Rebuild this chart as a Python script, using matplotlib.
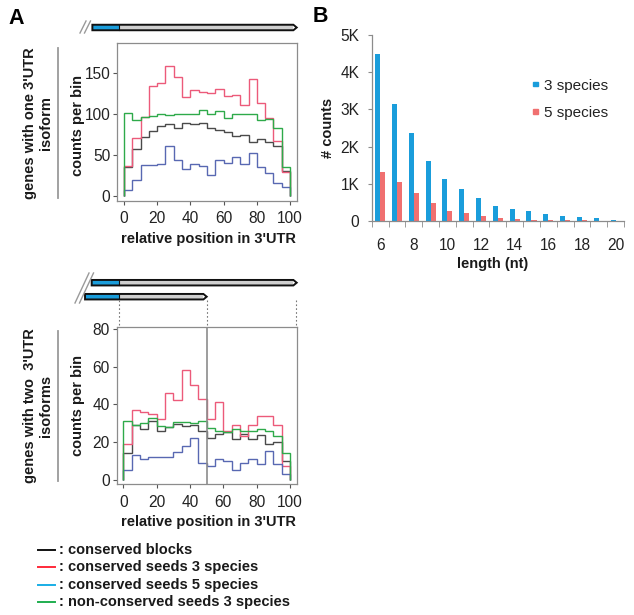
import numpy as np
import matplotlib
matplotlib.use("Agg")
import matplotlib.pyplot as plt
import matplotlib.transforms as mtransforms
from matplotlib.patches import Polygon, Rectangle

plt.rcParams["font.family"] = ["Liberation Sans", "DejaVu Sans"]

# ---- data ---------------------------------------------------------------
bin_edges = np.arange(0, 105, 5)  # relative position in 3'UTR

# genes with one 3'UTR isoform (counts per bin)
one_blocks = [35, 57, 72, 79, 85, 88, 83, 89, 88, 89, 82, 80, 78, 73, 74, 66, 69, 65, 60, 30]
one_seeds3 = [36, 70, 96, 134, 137, 158, 145, 120, 129, 126, 125, 130, 121, 123, 110, 142, 113, 95, 67, 29]
one_seeds5 = [7, 19, 38, 37, 39, 61, 44, 32, 39, 36, 25, 43, 40, 47, 39, 52, 35, 28, 16, 10]
one_nonc3 = [101, 92, 96, 97, 99, 98, 99, 100, 100, 104, 100, 103, 95, 99, 100, 100, 92, 93, 83, 35]

# genes with two 3'UTR isoforms (counts per bin)
two_blocks = [14, 29, 27, 31, 26, 28, 29.5, 28.5, 29, 26, 22, 24, 25, 21.5, 24, 21.5, 23.5, 19, 20, 10]
two_seeds3 = [19, 37, 36, 35, 32, 46, 42, 58, 50, 43, 32, 41, 26, 29, 23, 29, 34, 34, 29, 7]
two_seeds5 = [5, 13, 11, 12, 12, 12, 14.5, 18, 22, 9, 7, 11, 10, 5, 9, 11, 8, 15, 8, 3]
two_nonc3 = [31, 29, 30, 32.5, 28.5, 28, 30.5, 30.5, 30, 31, 27.5, 26, 25.5, 27, 26, 26, 27, 26, 23, 14]

# panel B: seed length histogram
lengths = np.arange(6, 21)
counts_3sp = [4500, 3150, 2360, 1620, 1130, 860, 620, 410, 320, 260, 180, 130, 100, 70, 40]
counts_5sp = [1320, 1050, 740, 490, 280, 220, 140, 90, 55, 40, 25, 18, 15, 8, 5]

series_names = [": conserved blocks", ": conserved seeds 3 species",
                ": conserved seeds 5 species", ": non-conserved seeds 3 species"]

# ---- styles -------------------------------------------------------------
W, H = 634, 615
line_cols = ["#4a4a4a", "#ec5a7a", "#5868b2", "#2eaa4a"]
legend_cols = ["#111111", "#ff2a3a", "#19aee6", "#1fae4f"]
bar_blue = "#1a9ddb"
bar_red = "#f07070"
frame_gray = "#8c8c8c"

fig = plt.figure(figsize=(W / 100, H / 100), dpi=100)
fig_px = mtransforms.Affine2D().scale(1 / W, -1 / H).translate(0, 1) + fig.transFigure


def box(left, top, right, bottom):
    return [left / W, 1 - bottom / H, (right - left) / W, (bottom - top) / H]


def style_r_axes(ax, yticks):
    for s in ax.spines.values():
        s.set_color(frame_gray)
        s.set_linewidth(0.9)
    ax.set_xlim(-4, 104)
    ax.set_xticks([0, 20, 40, 60, 80, 100])
    ax.set_yticks(yticks)
    ax.tick_params(colors="#555555", labelcolor="#222222", labelsize=11.2,
                   length=3, width=0.8)
    ax.tick_params(axis="x", pad=4.5)
    ax.tick_params(axis="y", pad=2)


def draw_series(ax, series):
    for vals, c in zip(series, line_cols):
        ax.stairs(vals, bin_edges, baseline=0, color=c, lw=1.0)


def gene(ax, y, x0, x_junc, x1, tip=2.0, h=5.5):
    tr = mtransforms.blended_transform_factory(ax.transData, fig_px)
    ax.add_patch(Rectangle((x0, y - h / 2), x_junc - x0, h, transform=tr,
                           facecolor="#1a9ddb", edgecolor="none", clip_on=False))
    ax.add_patch(Rectangle((x_junc, y - h / 2), x1 - tip - x_junc, h, transform=tr,
                           facecolor="#cfcfcf", edgecolor="none", clip_on=False))
    pts = [(x0, y - h / 2), (x1 - tip, y - h / 2), (x1, y), (x1 - tip, y + h / 2), (x0, y + h / 2)]
    ax.add_patch(Polygon(pts, closed=True, transform=tr, facecolor="none",
                         edgecolor="#111111", lw=1.4, clip_on=False))
    ax.plot([x_junc, x_junc], [y - h / 2, y + h / 2], transform=tr, color="#111111",
            lw=0.8, clip_on=False)


def slashes(x0, y0, x1, y1, gap=4.5):
    for d in (0, gap):
        fig.add_artist(plt.Line2D([x0 + d, x1 + d], [y0, y1], transform=fig_px,
                                  color="#9a9a9a", lw=1.0))


bold = dict(fontweight="bold", color="#1a1a1a")

# ---- panel A, top -------------------------------------------------------
ax1 = fig.add_axes(box(117.3, 43.3, 296.7, 201))
draw_series(ax1, [one_blocks, one_seeds3, one_seeds5, one_nonc3])
style_r_axes(ax1, [0, 50, 100, 150])
ax1.set_ylim(-6.5, 185.8)

gene(ax1, 27.5, -19, -2.8, 104)
slashes(80, 33, 86, 21)

fig.text(38 / W, 1 - 123 / H, "genes with one 3'UTR\nisoform", rotation=90,
         ha="center", va="center", fontsize=10.5, linespacing=1.15, **bold)
fig.add_artist(plt.Line2D([58 / W, 58 / W], [1 - 48 / H, 1 - 198 / H], color="#9a9a9a", lw=1.3))
fig.text(78 / W, 1 - 125 / H, "counts per bin", rotation=90, ha="center", va="center",
         fontsize=10.5, **bold)
fig.text(208 / W, 1 - 239 / H, "relative position in 3'UTR", ha="center", va="center",
         fontsize=10.5, **bold)

# ---- panel A, bottom ----------------------------------------------------
ax2 = fig.add_axes(box(116.7, 327.3, 296.7, 484.3))
draw_series(ax2, [two_blocks, two_seeds3, two_seeds5, two_nonc3])
style_r_axes(ax2, [0, 20, 40, 60, 80])
ax2.set_ylim(-2.55, 80.9)
ax2.axvline(50, color=frame_gray, lw=1.2)

gene(ax2, 282.7, -19, -2.8, 104)
gene(ax2, 296.7, -23, -2.8, 50)
slashes(75, 303, 89, 273)
tr2 = mtransforms.blended_transform_factory(ax2.transData, fig_px)
for xv in (-2.8, 50, 103.6):
    ax2.plot([xv, xv], [300, 327], transform=tr2, color="#777777", lw=0.8,
             ls=(0, (1.5, 2)), clip_on=False)

fig.text(38 / W, 1 - 406 / H, "genes with two  3'UTR\nisoforms", rotation=90,
         ha="center", va="center", fontsize=10.5, linespacing=1.15, **bold)
fig.add_artist(plt.Line2D([58 / W, 58 / W], [1 - 331 / H, 1 - 481 / H], color="#9a9a9a", lw=1.3))
fig.text(78 / W, 1 - 405 / H, "counts per bin", rotation=90, ha="center", va="center",
         fontsize=10.5, **bold)
fig.text(208 / W, 1 - 522 / H, "relative position in 3'UTR", ha="center", va="center",
         fontsize=10.5, **bold)

# legend for panel A
for i, (name, c) in enumerate(zip(series_names, legend_cols)):
    y = 550 + i * 17.4
    fig.add_artist(plt.Line2D([38 / W, 55 / W], [1 - y / H, 1 - y / H], color=c, lw=1.4))
    fig.text(59 / W, 1 - y / H, name, ha="left", va="center", fontsize=10.5, **bold)

# ---- panel B ------------------------------------------------------------
axb = fig.add_axes(box(371.7, 35, 624, 221))
bw = 0.3
axb.bar(lengths - bw / 2, counts_3sp, width=bw, color=bar_blue)
axb.bar(lengths + bw / 2, counts_5sp, width=bw, color=bar_red)
axb.set_xlim(5.5, 20.5)
axb.set_ylim(0, 5000)
axb.set_yticks([0, 1000, 2000, 3000, 4000, 5000])
axb.set_yticklabels(["0", "1K", "2K", "3K", "4K", "5K"])
axb.set_xticks(np.arange(6, 21, 2))
axb.set_xticks(np.arange(5.5, 21, 1), minor=True)
axb.tick_params(axis="x", which="major", length=0, pad=12)
axb.tick_params(axis="x", which="minor", length=4, color=frame_gray)
axb.tick_params(axis="y", length=3, color=frame_gray, pad=6)
axb.tick_params(labelsize=11.2, labelcolor="#222222")
for side in ("top", "right"):
    axb.spines[side].set_visible(False)
for side in ("left", "bottom"):
    axb.spines[side].set_color(frame_gray)
    axb.spines[side].set_linewidth(0.9)

for i, (lab, c) in enumerate([("3 species", bar_blue), ("5 species", bar_red)]):
    y = 85.7 + i * 27.6
    fig.add_artist(Rectangle((533, y - 4), 4.5, 4.5, transform=fig_px, color=c))
    fig.text(544 / W, 1 - y / H, lab, ha="left", va="center", fontsize=11, color="#222222")

fig.text(328 / W, 1 - 128 / H, "# counts", rotation=90, ha="center", va="center",
         fontsize=10.5, **bold)
fig.text(493 / W, 1 - 264 / H, "length (nt)", ha="center", va="center", fontsize=10.5, **bold)

# panel letters
fig.text(8 / W, 1 - 19 / H, "A", ha="left", va="center", fontsize=15.5, fontweight="bold")
fig.text(313 / W, 1 - 17 / H, "B", ha="left", va="center", fontsize=15.5, fontweight="bold")

fig.savefig("out.png", dpi=100)
